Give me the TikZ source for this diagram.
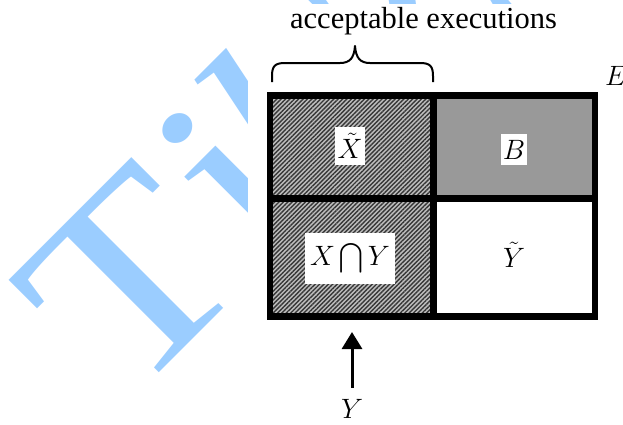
\RequirePackage{fix-cm}
\documentclass[tikz,border=0pt]{standalone}
\usepackage{exscale}
\usepackage{fontspec}
\setmainfont{Liberation Serif}
\usetikzlibrary{patterns.meta,arrows.meta}
\definecolor{wmblue}{RGB}{155,205,255}
\definecolor{hatchbg}{RGB}{190,190,190}
\definecolor{hatchfg}{RGB}{55,55,55}
\definecolor{cellgray}{RGB}{153,153,153}
\tikzset{
  hatch/.style={preaction={fill=hatchbg}, pattern={Lines[angle=45,distance=3.1pt,line width=1.4pt]}, pattern color=hatchfg},
  lab/.style={fill=white, inner sep=0pt, font=\fontsize{28}{32}\selectfont},
  frame/.style={line width=6.6pt},
  arr/.style={line width=3pt, -{Triangle[length=17pt,width=20pt]}},
  brace/.style={line width=2pt, line join=round},
  wmark/.style={rotate=45, anchor=base west, inner sep=0pt, text=wmblue, font=\fontsize{262}{262}\selectfont},
}
\begin{document}
\begin{tikzpicture}[x=1pt,y=-1pt]
\path[use as bounding box, fill=white] (0,0) rectangle (623,424);
% watermark
\begin{scope}
  \clip (0,0) rectangle (247,424) (247,0) rectangle (623,3);
  \node[wmark] (wm) at (126.6,405.4) {\scalebox{1.15}[1]{T\kern7pt i\kern-20pt\textit{k}Z}};
\end{scope}
% caption and brace
\node[anchor=base, inner sep=0pt, font=\fontsize{30.5}{36}\selectfont] (acc) at (423.5,28) {acceptable executions};
\draw[brace] (272,82) -- (272,76) .. controls (272,66) and (275,63) .. (285,63) -- (340,63)
  .. controls (350,63) and (354,58) .. (355,46)
  .. controls (356,58) and (360,63) .. (370,63) -- (420,63)
  .. controls (430,63) and (433,66) .. (433,76) -- (433,82);
\node[anchor=base west, inner sep=0pt, font=\fontsize{28}{32}\selectfont] (E) at (605,85) {$E$};
% cells
\path[hatch] (270,95.5) rectangle (433.5,198.5);
\path[hatch] (270,198.5) rectangle (433.5,316.5);
\fill[cellgray] (433.5,95.5) rectangle (595,198.5);
\draw[frame] (270,95.5) rectangle (595,316.5);
\draw[frame] (433.5,95.5) -- (433.5,316.5);
\draw[frame] (270,198.5) -- (595,198.5);
% labels
\node[lab, minimum width=30pt, minimum height=38pt] (Xt) at (350,146) {$\tilde{X}$};
\node[lab, minimum width=26pt, minimum height=31pt] (B) at (514,149.5) {$B$};
\node[lab, minimum width=90pt, minimum height=51pt] (XY) at (350,258.5)
  {$X\mathop{\vcenter{\hbox{\scalebox{0.85}{$\displaystyle\bigcap$}}}}Y$};
\node[lab] (Yt) at (514,255) {$\tilde{Y}$};
% arrow
\coordinate (tip) at (352,332);
\node[anchor=base, inner sep=0pt, font=\fontsize{28}{32}\selectfont] (Yl) at (352,418) {$Y$};
\draw[arr, shorten <=11pt] (Yl.north) -- (tip);
\end{tikzpicture}
\end{document}
